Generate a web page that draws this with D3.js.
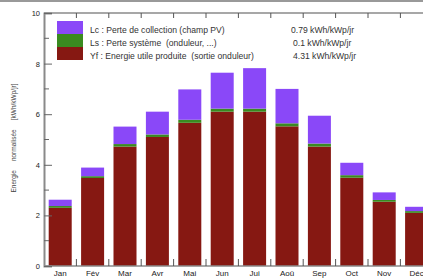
<!DOCTYPE html>
<html>
<head>
<meta charset="utf-8">
<script src="https://cdn.jsdelivr.net/npm/d3@7"></script>
<style>
body { margin:0; background:#fff; overflow:hidden; }
svg text { font-family: "Liberation Sans", Arial, sans-serif; fill:#222; }
</style>
</head>
<body>
<div id="chart"></div>
<script>
// months + stacked values (kWh/kWp/jr)
var months = ["Jan","Fév","Mar","Avr","Mai","Jun","Jui","Aoû","Sep","Oct","Nov","Déc"];
var yf = [2.30, 3.48, 4.72, 5.10, 5.66, 6.10, 6.10, 5.52, 4.72, 3.49, 2.54, 2.10];
var ls = [0.07, 0.07, 0.10, 0.10, 0.12, 0.12, 0.12, 0.12, 0.12, 0.10, 0.07, 0.07];
var lc = [0.25, 0.34, 0.69, 0.90, 1.20, 1.42, 1.60, 1.36, 1.10, 0.49, 0.30, 0.17];
var yTicks = [0, 2, 4, 6, 8, 10];

var legendLabels = ["Lc : Perte de collection (champ PV)", "Ls : Perte système  (onduleur, ...)", "Yf : Energie utile produite  (sortie onduleur)"];
var legendValues = ["0.79 kWh/kWp/jr", "0.1 kWh/kWp/jr", "4.31 kWh/kWp/jr"];
var colors = {lc: "#8a48f8", ls: "#3a8a20", yf: "#861812"};

var width = 423, height = 280;
var margin = {top: 13, left: 44, bottom: 14};

var svg = d3.select("#chart").append("svg")
	.attr("width", width)
	.attr("height", height);

// image frame line at top
svg.append("line")
	.attr("x1", 0).attr("x2", width).attr("y1", 1).attr("y2", 1)
	.attr("stroke", "#999").attr("stroke-width", 2);

var data = months.map(function(m, i){
	return {month: m, yf: yf[i], ls: ls[i], lc: lc[i]};
});

var x = d3.scaleBand()
	.domain(months)
	.range([margin.left, margin.left + 12 * 32.4])
	.paddingInner(0.29)
	.paddingOuter(0.145);

var y = d3.scaleLinear()
	.domain([0, 10])
	.range([height - margin.bottom, margin.top]);

var stack = d3.stack().keys(["yf", "ls", "lc"]);
var series = stack(data);

svg.append("g").selectAll("g")
	.data(series).enter()
	.append("g")
		.attr("fill", function(d){ return colors[d.key]; })
	.selectAll("rect")
	.data(function(d){ return d; }).enter()
	.append("rect")
		.attr("x", function(d){ return x(d.data.month); })
		.attr("y", function(d){ return y(d[1]); })
		.attr("width", x.bandwidth())
		.attr("height", function(d){ return y(d[0]) - y(d[1]); });

// band boundaries for frame ticks
var step = x.step();
var bounds = d3.range(1, 12).map(function(i){ return margin.left + i * step; });
var plotRight = margin.left + 12 * step;

var axisColor = "#8a8a8a";

// top frame line + ticks
svg.append("line")
	.attr("x1", margin.left).attr("x2", plotRight)
	.attr("y1", y(10)).attr("y2", y(10))
	.attr("stroke", axisColor).attr("stroke-width", 1.5);
svg.append("g").selectAll("line")
	.data(bounds).enter().append("line")
		.attr("x1", function(d){ return d; }).attr("x2", function(d){ return d; })
		.attr("y1", y(10)).attr("y2", y(10) + 5)
		.attr("stroke", "#555").attr("stroke-width", 1);

// bottom axis
svg.append("line")
	.attr("x1", margin.left).attr("x2", plotRight)
	.attr("y1", y(0)).attr("y2", y(0))
	.attr("stroke", axisColor).attr("stroke-width", 1.5);
svg.append("g").selectAll("line")
	.data(bounds).enter().append("line")
		.attr("x1", function(d){ return d; }).attr("x2", function(d){ return d; })
		.attr("y1", y(0)).attr("y2", y(0) - 7)
		.attr("stroke", "#555").attr("stroke-width", 1);

svg.append("g").selectAll("text")
	.data(months).enter().append("text")
		.attr("x", function(d){ return x(d) + x.bandwidth() / 2; })
		.attr("y", y(0) + 10)
		.attr("text-anchor", "middle")
		.style("font-size", "8px")
		.text(function(d){ return d; });

// left axis (ticks pointing inward)
var yAxis = d3.axisRight(y)
	.tickValues(yTicks)
	.tickSize(8)
	.tickFormat("");
var gy = svg.append("g")
	.attr("transform", "translate(" + margin.left + ",0)")
	.call(yAxis);
gy.select(".domain").attr("stroke", axisColor).attr("stroke-width", 2);
gy.selectAll(".tick line").attr("stroke", "#666");

// minor ticks
svg.append("g").selectAll("line")
	.data([1, 3, 5, 7, 9]).enter().append("line")
		.attr("x1", margin.left).attr("x2", margin.left + 5)
		.attr("y1", function(d){ return y(d); }).attr("y2", function(d){ return y(d); })
		.attr("stroke", "#666");

svg.append("g").selectAll("text")
	.data(yTicks).enter().append("text")
		.attr("x", margin.left - 4)
		.attr("y", function(d){ return y(d) + 3; })
		.attr("text-anchor", "end")
		.style("font-size", "7.5px")
		.text(function(d){ return d; });

// y label
svg.append("text")
	.attr("transform", "translate(16," + 138 + ") rotate(-90)")
	.attr("text-anchor", "middle")
	.style("font-size", "6.5px")
	.style("fill", "#444")
	.attr("xml:space", "preserve")
	.text("Energie     normalisée     [kWh/kWp/jr]");

// legend
var legendKeys = ["lc", "ls", "yf"];
var lg = svg.append("g");
lg.selectAll("rect")
	.data(legendKeys).enter().append("rect")
		.attr("x", 57)
		.attr("y", function(d, i){ return 21 + i * 13; })
		.attr("width", 26)
		.attr("height", 13)
		.attr("fill", function(d){ return colors[d]; });
lg.selectAll("text.lab")
	.data(legendLabels).enter().append("text")
		.attr("class", "lab")
		.attr("x", 90)
		.attr("y", function(d, i){ return 33 + i * 13; })
		.style("font-size", "8.6px")
		.style("fill", "#333")
		.attr("xml:space", "preserve")
		.text(function(d){ return d; });
lg.selectAll("text.val")
	.data(legendValues).enter().append("text")
		.attr("class", "val")
		.attr("x", function(d, i){ return i == 0 ? 291 : 293; })
		.attr("y", function(d, i){ return 33 + i * 13; })
		.style("font-size", "8.6px")
		.style("fill", "#333")
		.text(function(d){ return d; });
</script>
</body>
</html>
